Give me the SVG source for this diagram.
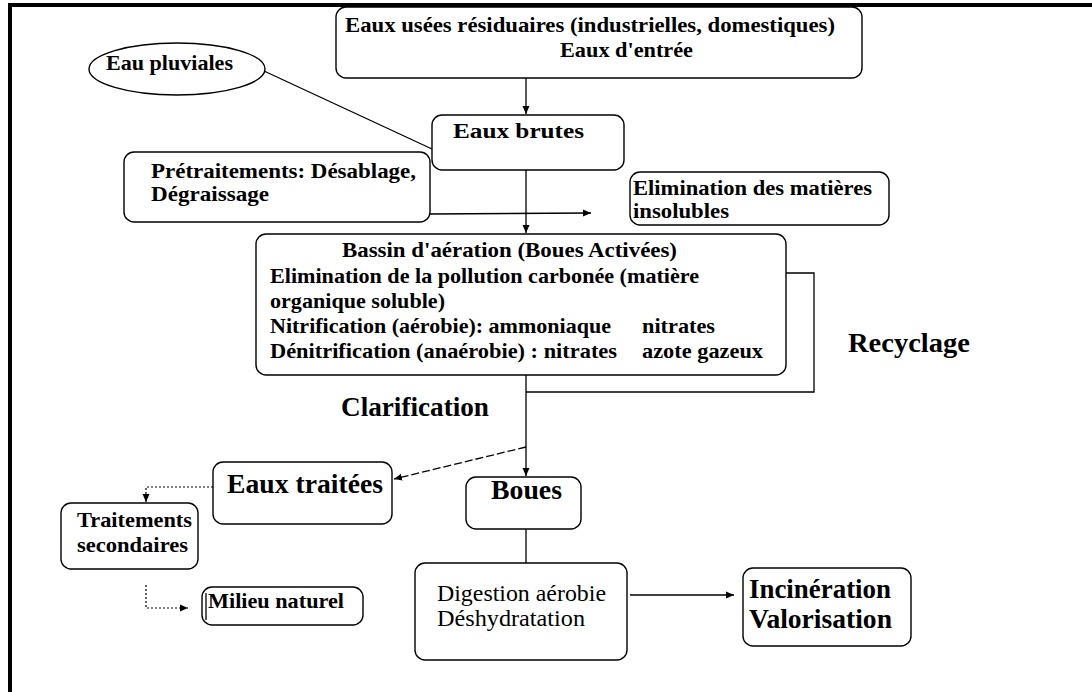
<svg xmlns="http://www.w3.org/2000/svg" width="1092" height="692" viewBox="0 0 1092 692">
<defs>
<style>
text{font-family:"Liberation Serif","Times New Roman",serif;font-weight:bold;font-size:22px;fill:#000}
.big{font-size:27px}
.top{font-size:21px}
.reg{font-weight:normal;font-size:23px}
.box{fill:#fff;stroke:#000;stroke-width:1.4}
.ln{fill:none;stroke:#000;stroke-width:1.3}
.dash{fill:none;stroke:#000;stroke-width:1.3;stroke-dasharray:8 3}
.dot{fill:none;stroke:#000;stroke-width:1.2;stroke-dasharray:2 2}
</style>
<marker id="ah" markerWidth="9" markerHeight="8" refX="8" refY="4" orient="auto" markerUnits="userSpaceOnUse">
<path d="M0,0.5 L8,4 L0,7.5 Z" fill="#000"/>
</marker>
</defs>
<rect width="1092" height="692" fill="#fff"/>
<g id="frame">
<line x1="8" y1="5" x2="1092" y2="5" stroke="#000" stroke-width="4"/>
<line x1="10" y1="3" x2="10" y2="692" stroke="#000" stroke-width="4"/>
</g>
<g id="connectors">
<line class="ln" x1="526" y1="78" x2="526" y2="114" marker-end="url(#ah)"/>
<line class="ln" x1="264" y1="71" x2="432" y2="149"/>
<line class="ln" x1="526" y1="170" x2="526" y2="233" marker-end="url(#ah)"/>
<line class="ln" x1="430" y1="214" x2="591" y2="213" marker-end="url(#ah)"/>
<polyline class="ln" points="786,273 814,273 814,392 526,392"/>
<line class="ln" x1="526" y1="375" x2="526" y2="476" marker-end="url(#ah)"/>
<line class="dash" x1="526" y1="447" x2="394" y2="479" marker-end="url(#ah)"/>
<polyline class="dot" points="213,487 146,487 146,502" marker-end="url(#ah)"/>
<polyline class="dot" points="146,585 146,608 188,608" marker-end="url(#ah)"/>
<line class="ln" x1="526" y1="529" x2="526" y2="563"/>
<line class="ln" x1="630" y1="595" x2="734" y2="595" marker-end="url(#ah)"/>
</g>
<g id="eaux-usees">
<rect class="box" x="336" y="7" width="526" height="71" rx="10"/>
<text class="top" x="345" y="32" textLength="490" lengthAdjust="spacingAndGlyphs">Eaux usées résiduaires (industrielles, domestiques)</text>
<text class="top" x="560" y="57" textLength="133" lengthAdjust="spacingAndGlyphs">Eaux d'entrée</text>
</g>
<g id="eau-pluviales">
<ellipse class="box" cx="177" cy="69" rx="88" ry="26"/>
<text x="106" y="70" textLength="127" lengthAdjust="spacingAndGlyphs">Eau pluviales</text>
</g>
<g id="eaux-brutes">
<rect class="box" x="432" y="115" width="192" height="55" rx="10"/>
<text x="453" y="138" textLength="131" lengthAdjust="spacingAndGlyphs">Eaux brutes</text>
</g>
<g id="pretraitements">
<rect class="box" x="124" y="152" width="306" height="70" rx="10"/>
<text x="151" y="178" textLength="265" lengthAdjust="spacingAndGlyphs">Prétraitements: Désablage,</text>
<text x="151" y="201" textLength="118" lengthAdjust="spacingAndGlyphs">Dégraissage</text>
</g>
<g id="elimination">
<rect class="box" x="630" y="172" width="259" height="53" rx="10"/>
<text x="633" y="195" textLength="239" lengthAdjust="spacingAndGlyphs">Elimination des matières</text>
<text x="633" y="218" textLength="96" lengthAdjust="spacingAndGlyphs">insolubles</text>
</g>
<g id="bassin">
<rect class="box" x="256" y="234" width="530" height="141" rx="10"/>
<text x="342" y="257" textLength="335" lengthAdjust="spacingAndGlyphs">Bassin d'aération (Boues Activées)</text>
<text x="270" y="283" textLength="429" lengthAdjust="spacingAndGlyphs">Elimination de la pollution carbonée (matière</text>
<text x="270" y="308" textLength="175" lengthAdjust="spacingAndGlyphs">organique soluble)</text>
<text x="270" y="333" textLength="341" lengthAdjust="spacingAndGlyphs">Nitrification (aérobie): ammoniaque</text>
<text x="642" y="333" textLength="73" lengthAdjust="spacingAndGlyphs">nitrates</text>
<text x="270" y="358" textLength="347" lengthAdjust="spacingAndGlyphs">Dénitrification (anaérobie) : nitrates</text>
<text x="642" y="358" textLength="121" lengthAdjust="spacingAndGlyphs">azote gazeux</text>
</g>
<g id="recyclage">
<text class="big" x="848" y="352" textLength="122" lengthAdjust="spacingAndGlyphs">Recyclage</text>
</g>
<g id="clarification">
<text class="big" x="341" y="416" textLength="148" lengthAdjust="spacingAndGlyphs">Clarification</text>
</g>
<g id="eaux-traitees">
<rect class="box" x="213" y="462" width="179" height="62" rx="10"/>
<text class="big" x="227" y="493" textLength="156" lengthAdjust="spacingAndGlyphs">Eaux traitées</text>
</g>
<g id="boues">
<rect class="box" x="466" y="477" width="115" height="52" rx="10"/>
<text class="big" x="491" y="499" textLength="71" lengthAdjust="spacingAndGlyphs">Boues</text>
</g>
<g id="traitements-secondaires">
<rect class="box" x="61" y="503" width="137" height="66" rx="10"/>
<text x="77" y="527" textLength="115" lengthAdjust="spacingAndGlyphs">Traitements</text>
<text x="77" y="552" textLength="111" lengthAdjust="spacingAndGlyphs">secondaires</text>
</g>
<g id="milieu-naturel">
<rect class="box" x="202" y="587" width="161" height="38" rx="10"/>
<line class="ln" x1="206" y1="593" x2="206" y2="620"/>
<text x="208" y="608" textLength="136" lengthAdjust="spacingAndGlyphs">Milieu naturel</text>
</g>
<g id="digestion">
<rect class="box" x="415" y="563" width="212" height="97" rx="10"/>
<text class="reg" x="437" y="601" textLength="169" lengthAdjust="spacingAndGlyphs">Digestion aérobie</text>
<text class="reg" x="437" y="626" textLength="148" lengthAdjust="spacingAndGlyphs">Déshydratation</text>
</g>
<g id="incineration">
<rect class="box" x="743" y="568" width="168" height="78" rx="10"/>
<text class="big" x="749" y="598" textLength="142" lengthAdjust="spacingAndGlyphs">Incinération</text>
<text class="big" x="749" y="628" textLength="143" lengthAdjust="spacingAndGlyphs">Valorisation</text>
</g>
</svg>
